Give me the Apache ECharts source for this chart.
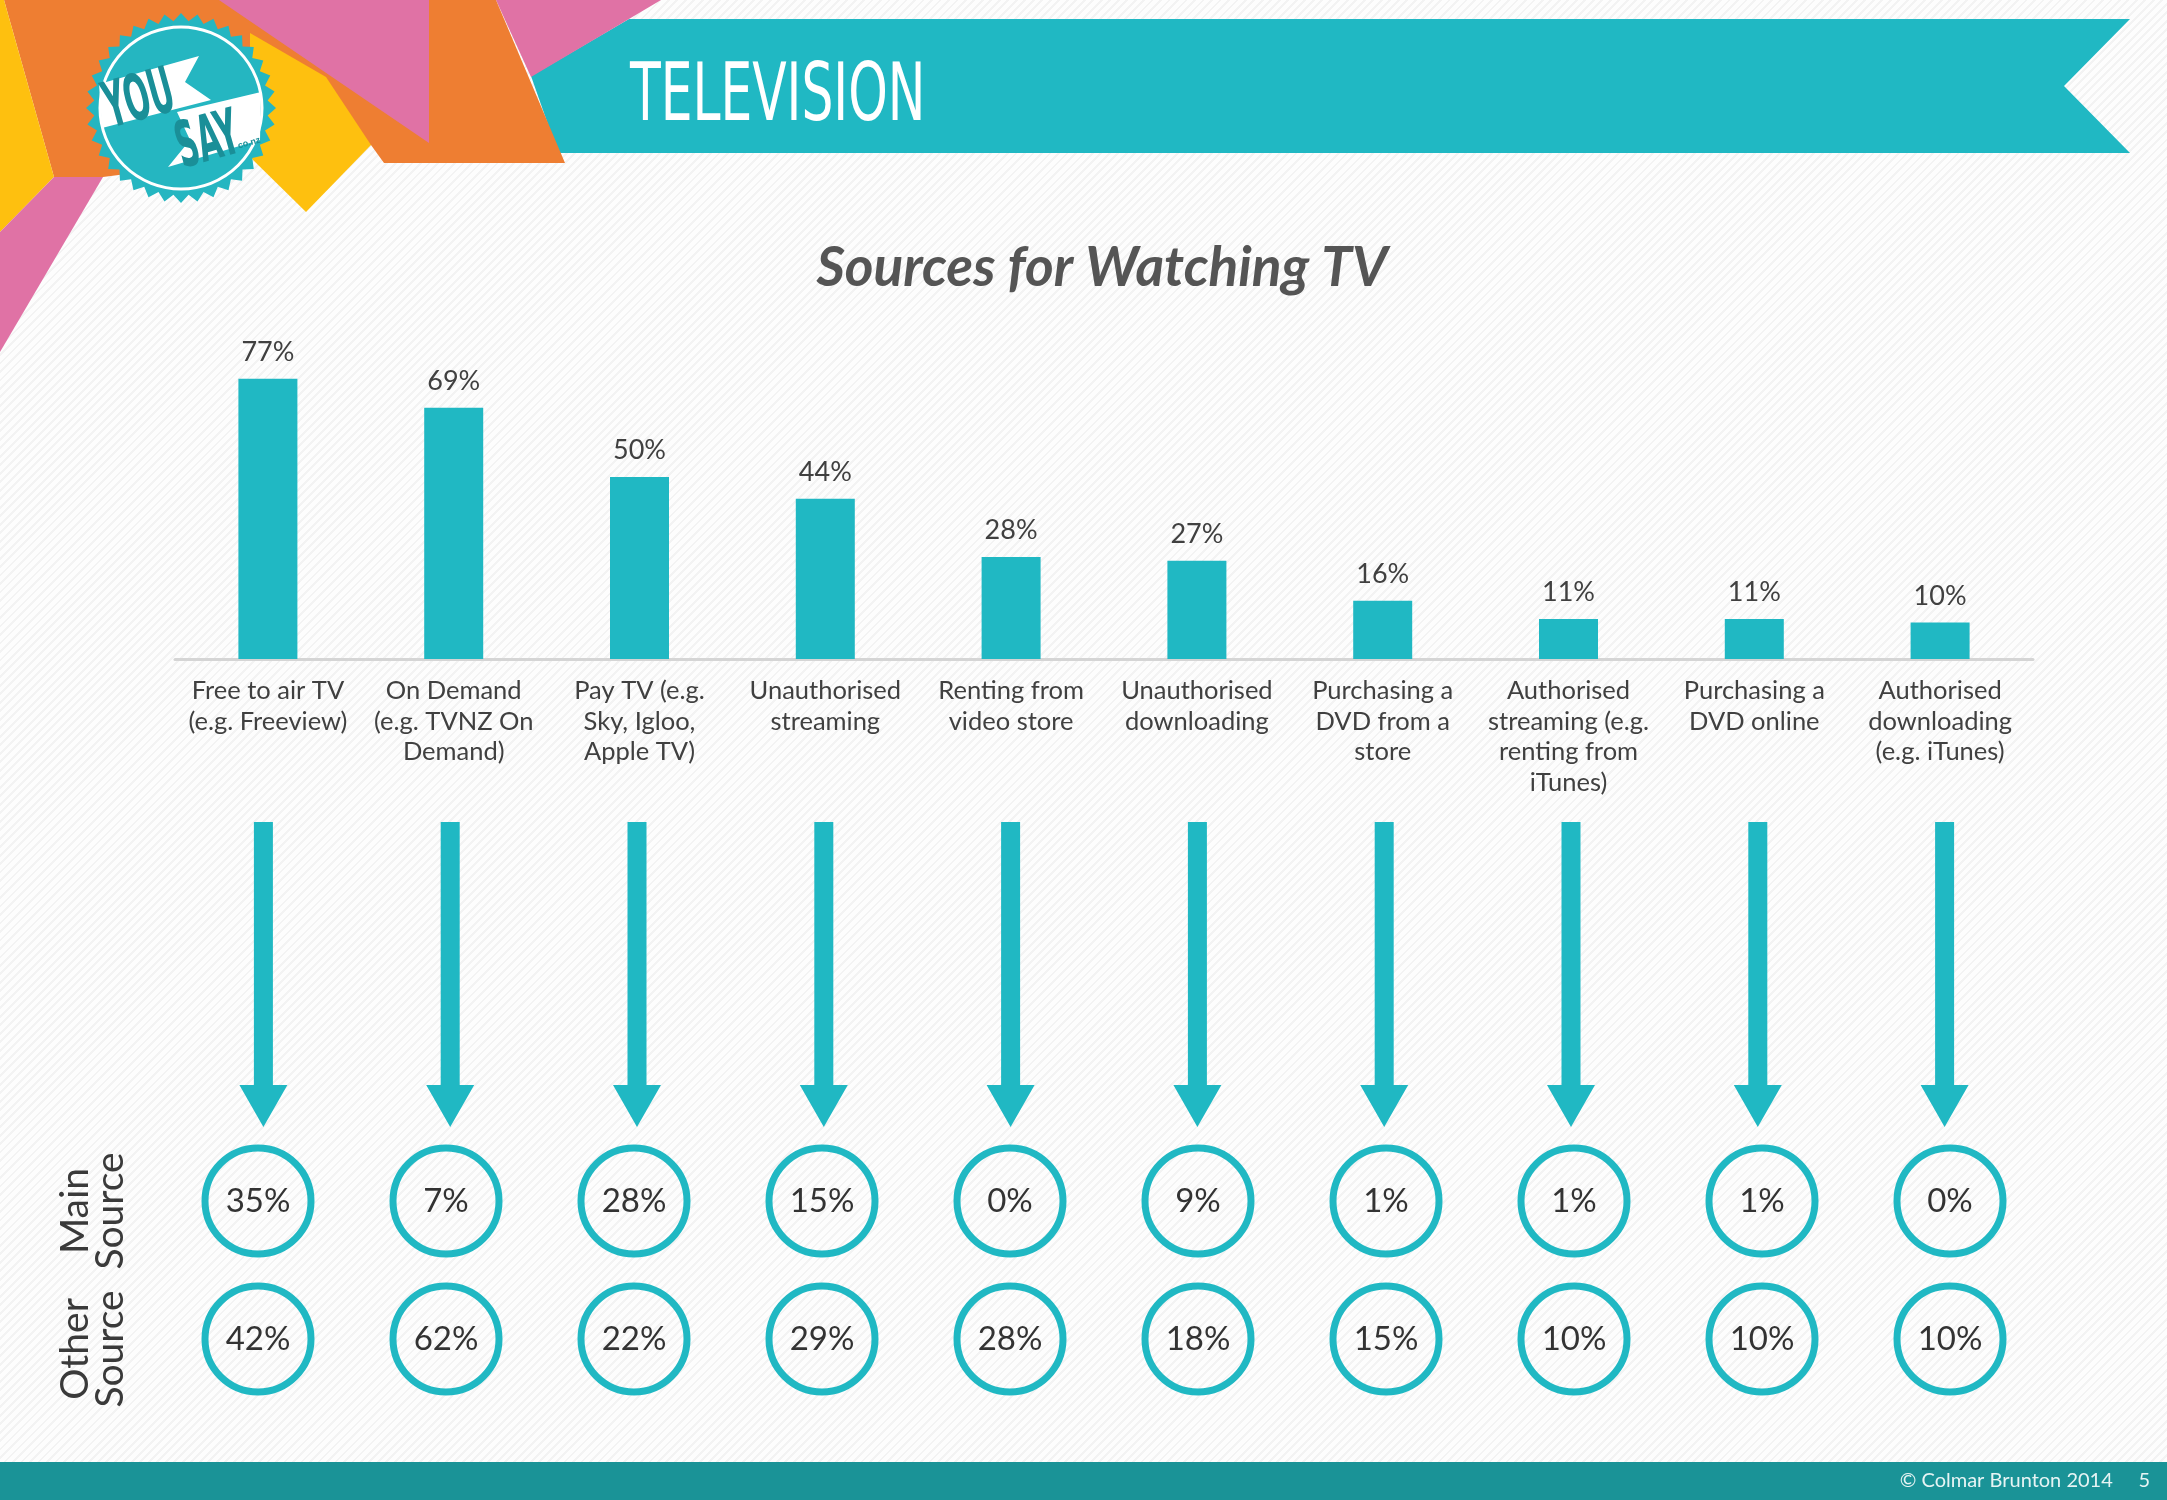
<!DOCTYPE html>
<html>
<head>
<meta charset="utf-8">
<script src="https://cdn.jsdelivr.net/npm/echarts@6/dist/echarts.min.js"></script>
<style>
  html, body { margin: 0; padding: 0; }
  body {
    width: 2167px; height: 1500px; overflow: hidden;
    background: repeating-linear-gradient(135deg, #fdfdfd 0 4px, #f3f3f3 4px 6px);
  }
  #chart { width: 2167px; height: 1500px; }
</style>
</head>
<body>
<div id="chart"></div>
<script>
// data
const categories = [
  'Free to air TV\n(e.g. Freeview)',
  'On Demand\n(e.g. TVNZ On\nDemand)',
  'Pay TV (e.g.\nSky, Igloo,\nApple TV)',
  'Unauthorised\nstreaming',
  'Renting from\nvideo store',
  'Unauthorised\ndownloading',
  'Purchasing a\nDVD from a\nstore',
  'Authorised\nstreaming (e.g.\nrenting from\niTunes)',
  'Purchasing a\nDVD online',
  'Authorised\ndownloading\n(e.g. iTunes)'
];
const anySource = [77, 69, 50, 44, 28, 27, 16, 11, 11, 10];
const mainSource = [35, 7, 28, 15, 0, 9, 1, 1, 1, 0];
const otherSource = [42, 62, 22, 29, 28, 18, 15, 10, 10, 10];
const rowLabels = ['Main\nSource', 'Other\nSource'];

const TEAL = '#20b8c3';
const DARK_TEAL = '#1a9397';
const ORANGE = '#ee7e32';
const PINK = '#e072a5';
const YELLOW = '#fec00f';
const TEXT = '#404040';
const FONT = 'Lato, "Noto Sans", sans-serif';

const chart = echarts.init(document.getElementById('chart'), null, { renderer: 'canvas' });

// serrated badge outline for the logo
function badgePoints(cx, cy, rOut, rIn, teeth) {
  const pts = [];
  for (let i = 0; i < teeth * 2; i++) {
    const r = i % 2 === 0 ? rOut : rIn;
    const a = (Math.PI * i) / teeth;
    pts.push([cx + r * Math.cos(a), cy + r * Math.sin(a)]);
  }
  return pts;
}

const graphics = [
  // header shapes
  { type: 'polygon', z: -5, shape: { points: [[629, 19], [2130, 19], [2064, 86], [2130, 153], [558, 153], [531, 76]] }, style: { fill: TEAL } },
  { type: 'polygon', z: -4, shape: { points: [[496, 0], [661, 0], [531, 77]] }, style: { fill: PINK } },
  { type: 'polygon', z: -3, shape: { points: [[4, 0], [496, 0], [565, 163], [384, 163], [371, 145], [259, 157], [103, 177], [54, 177]] }, style: { fill: ORANGE } },
  { type: 'polygon', z: -2, shape: { points: [[219, 0], [429, 0], [429, 143]] }, style: { fill: PINK } },
  { type: 'polygon', z: -2, shape: { points: [[250, 33], [326, 77], [371, 145], [306, 212], [250, 157]] }, style: { fill: YELLOW } },
  { type: 'polygon', z: -2, shape: { points: [[0, 0], [4, 0], [54, 177], [0, 232]] }, style: { fill: YELLOW } },
  { type: 'polygon', z: -2, shape: { points: [[0, 232], [54, 177], [103, 177], [0, 352]] }, style: { fill: PINK } },
  // logo
  { type: 'polygon', z: 1, shape: { points: badgePoints(181, 108, 95, 87, 36) }, style: { fill: '#25b6c1' } },
  { type: 'circle', z: 2, shape: { cx: 181, cy: 108, r: 81 }, style: { fill: 'none', stroke: '#fff', lineWidth: 3 } },
  { type: 'polygon', z: 2, shape: { points: [[99, 84], [199, 56], [185, 82], [211, 100], [102, 128]] }, style: { fill: '#fff' } },
  { type: 'polygon', z: 2, shape: { points: [[177, 112], [261, 92], [260, 140], [168, 167], [190, 140]] }, style: { fill: '#fff' } },
  { type: 'text', z: 3, x: 106, y: 112, rotation: 0.27, scaleX: 0.52,
    style: { text: 'YOU', font: 'bold 64px "DejaVu Sans Condensed", sans-serif', fill: '#1a8f98', textVerticalAlign: 'middle' } },
  { type: 'text', z: 3, x: 178, y: 152, rotation: 0.27, scaleX: 0.52,
    style: { text: 'SAY', font: 'bold 64px "DejaVu Sans Condensed", sans-serif', fill: '#1a8f98', textVerticalAlign: 'middle' } },
  { type: 'text', z: 3, x: 238, y: 146, rotation: 0.27,
    style: { text: 'co.nz', font: 'bold 9px sans-serif', fill: '#1a8f98', textVerticalAlign: 'middle' } },
  // header title
  { type: 'text', z: 3, x: 630, y: 99, scaleX: 0.69,
    style: { text: 'TELEVISION', font: '500 81px "DejaVu Sans Condensed", sans-serif', fill: '#fff', textVerticalAlign: 'middle' } },
  // chart title
  { type: 'text', z: 3, x: 1102, y: 268,
    style: { text: 'Sources for Watching TV', font: 'italic bold 55px ' + FONT, fill: '#555', textAlign: 'center', textVerticalAlign: 'middle' } },
  // footer
  { type: 'rect', z: 1, shape: { x: 0, y: 1462, width: 2167, height: 38 }, style: { fill: DARK_TEAL } },
  { type: 'text', z: 2, x: 2150, y: 1481,
    style: { text: '© Colmar Brunton 2014     5', font: '20px ' + FONT, fill: '#e6f4f4', textAlign: 'right', textVerticalAlign: 'middle' } }
];

const option = {
  backgroundColor: 'transparent',
  animation: false,
  textStyle: { fontFamily: FONT },
  graphic: { elements: graphics },
  grid: [
    { left: 175, top: 295, width: 1858, height: 364 },
    { left: 164, top: 1132, width: 1880, height: 276 },
    { left: 170, top: 822, width: 1868, height: 305 }
  ],
  xAxis: [
    {
      type: 'category', gridIndex: 0, data: categories,
      axisLine: { lineStyle: { color: '#d5d5d5', width: 3 } },
      axisTick: { show: false },
      axisLabel: { interval: 0, color: TEXT, fontSize: 25.5, lineHeight: 30.5, margin: 17 }
    },
    { type: 'category', gridIndex: 1, data: categories, show: false },
    { type: 'category', gridIndex: 2, data: categories, show: false }
  ],
  yAxis: [
    { type: 'value', gridIndex: 0, min: 0, max: 100, show: false },
    {
      type: 'category', gridIndex: 1, data: rowLabels, inverse: true,
      axisLine: { show: false }, axisTick: { show: false }, splitLine: { show: false },
      axisLabel: { interval: 0, hideOverlap: false, rotate: 90, color: '#3a3a3a', fontSize: 39, lineHeight: 35, margin: 36, padding: [0, 20, 0, 0] }
    },
    { type: 'value', gridIndex: 2, min: 0, max: 1, show: false }
  ],
  series: [
    {
      type: 'bar', xAxisIndex: 0, yAxisIndex: 0, data: anySource, barWidth: 59,
      itemStyle: { color: TEAL },
      label: { show: true, position: 'top', distance: 13, color: TEXT, fontSize: 27, formatter: '{c}%' }
    },
    {
      // arrows from each bar down to its circles
      type: 'custom', xAxisIndex: 2, yAxisIndex: 2,
      data: categories.map((c, i) => [i, 1]),
      renderItem: function (params, api) {
        const top = api.coord([api.value(0), 1]);
        const bot = api.coord([api.value(0), 0]);
        const x = top[0], sw = 9.5, hw = 24, hh = 42;
        return {
          type: 'polygon',
          shape: { points: [[x - sw, top[1]], [x + sw, top[1]], [x + sw, bot[1] - hh], [x + hw, bot[1] - hh], [x, bot[1]], [x - hw, bot[1] - hh], [x - sw, bot[1] - hh]] },
          style: { fill: TEAL }
        };
      }
    },
    {
      type: 'scatter', xAxisIndex: 1, yAxisIndex: 1, symbol: 'circle', symbolSize: 106,
      data: mainSource.map((v, i) => [i, 0, v]),
      itemStyle: { color: 'rgba(255,255,255,0)', borderColor: TEAL, borderWidth: 7, opacity: 1 },
      label: { show: true, position: 'inside', color: '#333', fontSize: 33, formatter: p => p.value[2] + '%' }
    },
    {
      type: 'scatter', xAxisIndex: 1, yAxisIndex: 1, symbol: 'circle', symbolSize: 106,
      data: otherSource.map((v, i) => [i, 1, v]),
      itemStyle: { color: 'rgba(255,255,255,0)', borderColor: TEAL, borderWidth: 7, opacity: 1 },
      label: { show: true, position: 'inside', color: '#333', fontSize: 33, formatter: p => p.value[2] + '%' }
    }
  ]
};

chart.setOption(option);
</script>
</body>
</html>
